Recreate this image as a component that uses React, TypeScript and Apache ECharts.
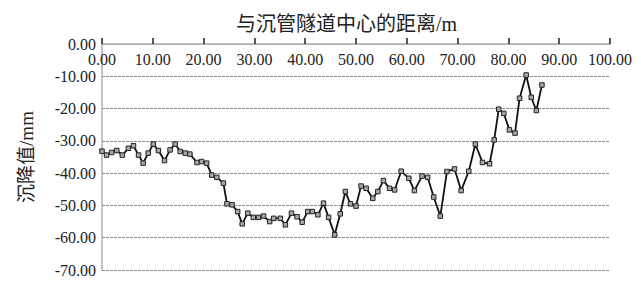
import React, { useEffect, useRef } from "react";
import * as echarts from "echarts";

const distances: number[] = [
  0.0, 0.9, 1.9, 2.9, 4.0, 5.2, 6.2, 7.2, 8.1, 9.1,
  10.1, 11.1, 12.3, 13.4, 14.4, 15.4, 16.4, 17.3, 18.7, 19.6,
  20.6, 21.6, 22.6, 23.9, 24.6, 25.6, 26.7, 27.6, 28.7, 29.8,
  30.8, 31.8, 33.0, 33.8, 35.1, 36.1, 37.3, 38.4, 39.4, 40.5,
  41.4, 42.5, 43.6, 44.6, 45.8, 46.9, 47.9, 48.9, 50.0, 51.0,
  52.0, 53.3, 54.3, 55.4, 56.6, 57.6, 58.9, 60.4, 61.5, 63.0,
  64.1, 65.3, 66.6, 67.9, 69.4, 70.7, 72.2, 73.5, 74.9, 76.3,
  77.2, 78.1, 79.1, 80.2, 81.3, 82.2, 83.5, 84.5, 85.5, 86.6,
];

const settlements: number[] = [
  -33.2, -34.4, -33.6, -33.0, -34.4, -32.3, -31.5, -34.4, -36.9, -33.8,
  -31.0, -33.0, -36.1, -32.8, -31.0, -33.3, -33.8, -34.1, -36.7, -36.4,
  -36.9, -40.6, -41.3, -43.1, -49.5, -49.8, -51.9, -55.7, -52.4, -53.7,
  -53.7, -53.3, -55.0, -54.0, -54.0, -56.0, -52.4, -53.5, -55.2, -51.9,
  -51.9, -52.9, -49.3, -53.7, -59.1, -52.6, -45.7, -49.5, -50.2, -44.0,
  -44.7, -47.8, -45.7, -42.3, -44.7, -45.2, -39.4, -41.6, -45.4, -40.9,
  -41.3, -47.4, -53.3, -39.5, -38.7, -45.4, -39.4, -31.0, -36.7, -37.1,
  -29.7, -20.2, -21.5, -26.6, -27.6, -16.8, -9.6, -16.5, -20.6, -12.7,
];

const titleText = "与沉管隧道中心的距离/m";
const yName = "沉降值/mm";

const FONT = "'Liberation Serif', 'Noto Sans CJK SC', serif";

export default function App() {
  const ref = useRef<HTMLDivElement>(null);
  useEffect(() => {
    if (!ref.current) return;
    const chart = echarts.init(ref.current, undefined, { renderer: "svg" });
    const data = distances.map((d, i) => [d, settlements[i]]);
    chart.setOption({
      animation: false,
      backgroundColor: "#ffffff",
      title: {
        text: titleText,
        left: 231,
        top: 9,
        textStyle: { fontFamily: FONT, fontSize: 20, fontWeight: "normal", color: "#222" },
      },
      grid: { left: 102, right: 31, top: 44, bottom: 13 },
      xAxis: {
        type: "value",
        position: "top",
        min: 0,
        max: 100,
        interval: 10,
        axisLine: { show: true, lineStyle: { color: "#a9b0b8", width: 1.5 } },
        axisTick: { show: true, inside: false, length: 6, lineStyle: { color: "#222", width: 1.5 } },
        axisLabel: {
          inside: true,
          margin: 7,
          fontFamily: FONT,
          fontSize: 16,
          color: "#222",
          formatter: (v: number) => v.toFixed(2),
        },
        splitLine: { show: false },
      },
      yAxis: {
        type: "value",
        min: -70,
        max: 0,
        interval: 10,
        name: yName,
        nameLocation: "middle",
        nameGap: 66,
        nameTextStyle: { fontFamily: FONT, fontSize: 19, color: "#222" },
        axisLine: { show: true, lineStyle: { color: "#a9b0b8", width: 1.5 } },
        axisTick: { show: false },
        axisLabel: {
          margin: 6,
          fontFamily: FONT,
          fontSize: 16,
          color: "#222",
          formatter: (v: number) => v.toFixed(2),
        },
        splitLine: { show: true, lineStyle: { color: "#8a8a8a", type: [3, 1], width: 1 } },
      },
      series: [
        {
          type: "line",
          data,
          symbol: "rect",
          symbolSize: 4.5,
          lineStyle: { color: "#111", width: 1.8 },
          itemStyle: { color: "#a8a8a8", borderColor: "#222", borderWidth: 1 },
        },
      ],
    });
    return () => chart.dispose();
  }, []);
  return <div ref={ref} style={{ width: 641, height: 283, position: "absolute", left: 0, top: 0 }} />;
}
